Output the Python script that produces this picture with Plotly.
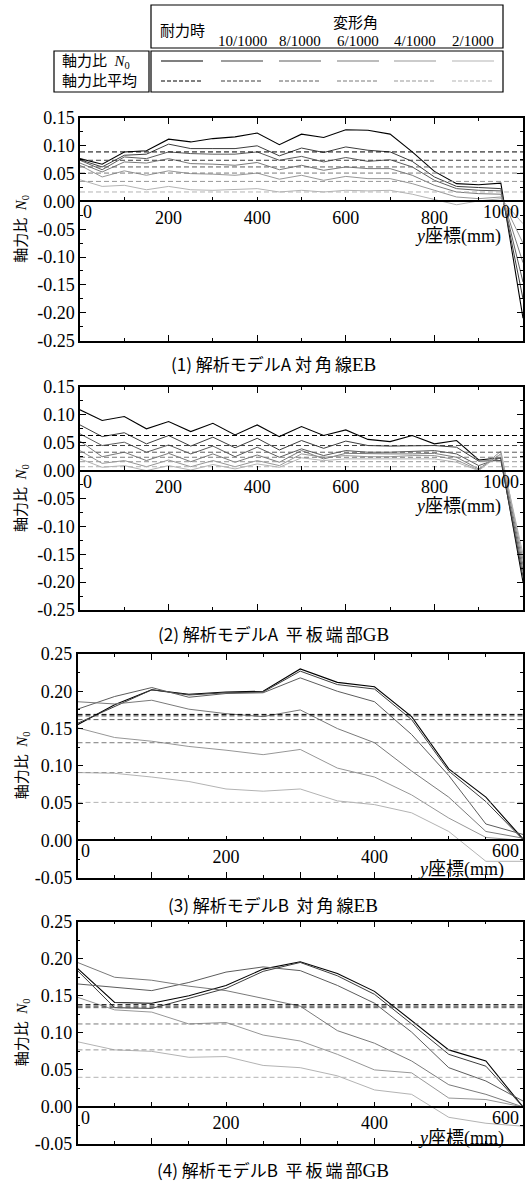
import plotly.graph_objects as go

W, H = 526, 1182

# ---------------- data ----------------
series_labels = ["耐力時", "10/1000", "8/1000", "6/1000", "4/1000", "2/1000"]
line_colors = ["#000000", "#3c3c3c", "#5c5c5c", "#7a7a7a", "#979797", "#b3b3b3"]

x_A = [0, 50, 100, 150, 200, 250, 300, 350, 400, 450, 500,
       550, 600, 650, 700, 750, 800, 850, 900, 950, 1000]
x_B = [0, 50, 100, 150, 200, 250, 300, 350, 400, 450, 500, 550, 600]

# (1) 解析モデルA 対角線EB
p1_N0 = [
    [0.077, 0.067, 0.089, 0.091, 0.112, 0.107, 0.113, 0.116, 0.123, 0.102, 0.121,
     0.115, 0.129, 0.128, 0.121, 0.089, 0.054, 0.032, 0.030, 0.033, -0.210],
    [0.075, 0.062, 0.083, 0.085, 0.103, 0.095, 0.095, 0.095, 0.100, 0.082, 0.096,
     0.088, 0.098, 0.092, 0.089, 0.072, 0.044, 0.027, 0.025, 0.023, -0.175],
    [0.074, 0.057, 0.080, 0.077, 0.089, 0.086, 0.085, 0.085, 0.089, 0.074, 0.081,
     0.071, 0.079, 0.072, 0.075, 0.062, 0.038, 0.023, 0.020, 0.019, -0.145],
    [0.069, 0.053, 0.071, 0.069, 0.077, 0.068, 0.067, 0.065, 0.070, 0.057, 0.065,
     0.056, 0.062, 0.059, 0.059, 0.047, 0.029, 0.017, 0.014, 0.013, -0.110],
    [0.065, 0.044, 0.055, 0.047, 0.055, 0.050, 0.049, 0.047, 0.051, 0.040, 0.047,
     0.038, 0.045, 0.041, 0.041, 0.032, 0.020, 0.008, 0.005, 0.008, -0.075],
    [0.039, 0.027, 0.029, 0.021, 0.027, 0.021, 0.020, 0.021, 0.023, 0.017, 0.020,
     0.017, 0.020, 0.019, 0.020, 0.013, 0.003, -0.006, 0.001, 0.005, -0.040],
]
p1_avg = [0.089, 0.074, 0.062, 0.051, 0.036, 0.017]

# (2) 解析モデルA 平板端部GB
p2_N0 = [
    [0.109, 0.090, 0.097, 0.075, 0.088, 0.070, 0.085, 0.064, 0.082, 0.061, 0.079,
     0.063, 0.073, 0.056, 0.052, 0.063, 0.048, 0.054, 0.019, 0.023, -0.200],
    [0.082, 0.061, 0.068, 0.048, 0.063, 0.044, 0.060, 0.041, 0.058, 0.037, 0.054,
     0.040, 0.053, 0.045, 0.044, 0.044, 0.045, 0.042, 0.017, 0.018, -0.190],
    [0.066, 0.045, 0.051, 0.033, 0.046, 0.030, 0.044, 0.025, 0.042, 0.024, 0.039,
     0.027, 0.036, 0.033, 0.033, 0.035, 0.036, 0.030, 0.009, 0.023, -0.180],
    [0.053, 0.025, 0.033, 0.018, 0.031, 0.016, 0.030, 0.015, 0.028, 0.015, 0.036,
     0.021, 0.031, 0.030, 0.030, 0.030, 0.031, 0.024, 0.003, 0.030, -0.170],
    [0.036, 0.013, 0.018, 0.007, 0.019, 0.007, 0.018, 0.007, 0.018, 0.009, 0.030,
     0.024, 0.027, 0.025, 0.025, 0.027, 0.027, 0.019, 0.001, 0.035, -0.160],
    [0.021, 0.006, 0.009, 0.000, 0.009, 0.001, 0.011, 0.003, 0.012, 0.006, 0.023,
     0.018, 0.021, 0.021, 0.021, 0.021, 0.021, 0.015, 0.000, 0.030, -0.150],
]
p2_avg = [0.063, 0.045, 0.033, 0.024, 0.016, 0.007]

# (3) 解析モデルB 対角線EB
p3_N0 = [
    [0.155, 0.182, 0.202, 0.196, 0.199, 0.200, 0.230, 0.212, 0.206, 0.166, 0.096, 0.058, 0.002],
    [0.157, 0.180, 0.202, 0.195, 0.198, 0.199, 0.227, 0.209, 0.203, 0.162, 0.093, 0.052, 0.001],
    [0.176, 0.193, 0.205, 0.192, 0.197, 0.198, 0.218, 0.200, 0.186, 0.142, 0.087, 0.022, 0.008],
    [0.186, 0.183, 0.188, 0.176, 0.170, 0.166, 0.175, 0.150, 0.131, 0.093, 0.058, 0.012, 0.003],
    [0.151, 0.138, 0.133, 0.126, 0.121, 0.115, 0.122, 0.097, 0.085, 0.061, 0.030, 0.004, 0.000],
    [0.091, 0.090, 0.085, 0.079, 0.069, 0.066, 0.069, 0.053, 0.048, 0.037, 0.012, -0.028, -0.028],
]
p3_avg = [0.169, 0.167, 0.162, 0.131, 0.091, 0.051]

# (4) 解析モデルB 平板端部GB
p4_N0 = [
    [0.187, 0.141, 0.140, 0.150, 0.164, 0.186, 0.196, 0.180, 0.156, 0.116, 0.077, 0.062, 0.000],
    [0.184, 0.134, 0.133, 0.147, 0.160, 0.183, 0.195, 0.177, 0.152, 0.112, 0.071, 0.055, 0.000],
    [0.166, 0.161, 0.157, 0.168, 0.182, 0.189, 0.184, 0.164, 0.140, 0.101, 0.053, 0.035, 0.008],
    [0.195, 0.175, 0.171, 0.163, 0.157, 0.146, 0.136, 0.103, 0.086, 0.062, 0.030, 0.017, 0.000],
    [0.148, 0.131, 0.128, 0.112, 0.114, 0.097, 0.089, 0.071, 0.050, 0.046, 0.012, 0.010, 0.000],
    [0.088, 0.077, 0.075, 0.067, 0.068, 0.056, 0.053, 0.042, 0.023, 0.017, -0.014, -0.022, -0.026],
]
p4_avg = [0.138, 0.136, 0.134, 0.112, 0.077, 0.040]

SP = "<span style=\"letter-spacing:3px\">"
SR = "<span style=\"font-family:Liberation Serif;font-size:19px\">"
panel_titles = [
    f"(1) 解析モデルA {SP}対角</span>線{SR}EB</span>",
    f"(2) 解析モデルA  {SP}平板端</span>部{SR}GB</span>",
    f"(3) 解析モデルB  {SP}対角</span>線{SR}EB</span>",
    f"(4) 解析モデルB  {SP}平板端</span>部{SR}GB</span>",
]
yticks_A = [-0.25, -0.20, -0.15, -0.10, -0.05, 0.00, 0.05, 0.10, 0.15]
yticks_B = [-0.05, 0.00, 0.05, 0.10, 0.15, 0.20, 0.25]
xlabels_A = [200, 400, 600, 800]
xlabels_B = [200, 400]

# ---------------- layout helpers ----------------
SERIF = "Liberation Serif, Noto Sans CJK JP"
SANS = "Noto Sans CJK JP"


def fx(px):
    return px / W


def fy(py):
    return 1 - py / H


panels = [
    dict(x=x_A, vals=p1_N0, avg=p1_avg, xr=[0, 1000], yr=[-0.25, 0.15], xd=(80, 523), yd=(118, 340.5),
         xmaj=200, xmin=100, zstep=100, yt=yticks_A, xl=xlabels_A, title_y=364, xt_shift=-35, kind="A"),
    dict(x=x_A, vals=p2_N0, avg=p2_avg, xr=[0, 1000], yr=[-0.25, 0.15], xd=(80, 523), yd=(387, 610),
         xmaj=200, xmin=100, zstep=100, yt=yticks_A, xl=xlabels_A, title_y=633, xt_shift=-36, kind="A"),
    dict(x=x_B, vals=p3_N0, avg=p3_avg, xr=[0, 600], yr=[-0.05, 0.25], xd=(77.5, 523), yd=(654, 877.7),
         xmaj=100, xmin=50, zstep=100, yt=yticks_B, xl=xlabels_B, title_y=904, xt_shift=-29, kind="B"),
    dict(x=x_B, vals=p4_N0, avg=p4_avg, xr=[0, 600], yr=[-0.05, 0.25], xd=(77.5, 523), yd=(921.7, 1144),
         xmaj=100, xmin=50, zstep=100, yt=yticks_B, xl=xlabels_B, title_y=1169, xt_shift=-32, kind="B"),
]

fig = go.Figure()
layout = dict(
    width=W, height=H, margin=dict(l=0, r=0, t=0, b=0, pad=0), autosize=False,
    paper_bgcolor="white", plot_bgcolor="white", showlegend=False,
    font=dict(family=SERIF, size=15, color="black"),
)
annotations = []
shapes = []


def axname(letter, n):
    return f"{letter}axis" if n == 1 else f"{letter}axis{n}"


def axref(letter, n):
    return letter if n == 1 else f"{letter}{n}"


for i, p in enumerate(panels, start=1):
    xb, yb, xo = axref("x", i), axref("y", i), axref("x", i + 4)
    ymin, ymax = p["yr"]
    d0, d1 = fy(p["yd"][1]), fy(p["yd"][0])
    zero_pos = d0 + (0 - ymin) / (ymax - ymin) * (d1 - d0)

    # measured lines
    for k in range(len(series_labels)):
        fig.add_trace(go.Scatter(x=p["x"], y=p["vals"][k], mode="lines", xaxis=xb, yaxis=yb,
                                 line=dict(color=line_colors[k], width=1.1 if k == 0 else 1),
                                 name=series_labels[k], hoverinfo="skip"))
    # averages (dashed)
    for k in range(len(series_labels)):
        fig.add_trace(go.Scatter(x=[p["x"][0], p["x"][-1]], y=[p["avg"][k]] * 2, mode="lines",
                                 xaxis=xo, yaxis=yb,
                                 line=dict(color=line_colors[k], width=1, dash="5px,3px"),
                                 name=series_labels[k] + " 平均", hoverinfo="skip"))

    layout[axname("x", i)] = dict(
        domain=[fx(p["xd"][0]), fx(p["xd"][1])], range=p["xr"], anchor=yb, automargin=False,
        showline=True, linecolor="black", linewidth=1.5, mirror="ticks",
        ticks="inside", ticklen=6, tickwidth=1, tickcolor="black", tick0=0, dtick=p["xmaj"],
        minor=dict(ticks="inside", ticklen=3, tickcolor="black", tick0=0, dtick=p["xmin"], showgrid=False),
        showticklabels=False, showgrid=False, zeroline=False, fixedrange=True,
    )
    ztv = list(range(p["zstep"], p["xr"][1], p["zstep"]))
    zax = dict(
        overlaying=xb, anchor="free", position=zero_pos, side="bottom", range=p["xr"], automargin=False,
        showline=True, linecolor="black", linewidth=1.5,
        ticks="inside", ticklen=4, tickwidth=1, tickcolor="black",
        tickvals=ztv, ticktext=[str(v) if v in p["xl"] else "" for v in ztv],
        tickfont=dict(family="Liberation Serif", size=18, color="black"),
        showgrid=False, zeroline=False, fixedrange=True,
    )
    if p["kind"] == "B":
        zax["minor"] = dict(ticks="inside", ticklen=3, tickcolor="black", tick0=0, dtick=p["xmin"], showgrid=False)
    layout[axname("x", i + 4)] = zax
    layout[axname("y", i)] = dict(
        domain=[d0, d1], range=p["yr"], anchor=xb, automargin=False,
        showline=True, linecolor="black", linewidth=1.5, mirror="ticks",
        ticks="inside", ticklen=6, tickwidth=1, tickcolor="black",
        tickvals=p["yt"], ticktext=[f"{v:.2f}" for v in p["yt"]],
        tickfont=dict(family="Liberation Serif", size=18, color="black"),
        minor=dict(ticks="inside", ticklen=3, tickcolor="black", tick0=0, dtick=0.025, showgrid=False),
        showgrid=False, zeroline=False, fixedrange=True,
    )

    # edge tick labels of the zero axis
    annotations.append(dict(x=p["xr"][0], y=0, xref=xb, yref=yb, text="0", showarrow=False,
                            xanchor="left", yanchor="top", xshift=1, yshift=1,
                            font=dict(family="Liberation Serif", size=18)))
    annotations.append(dict(x=p["xr"][1], y=0, xref=xb, yref=yb, text=str(p["xr"][1]), showarrow=False,
                            xanchor="right", yanchor="top", xshift=-2, yshift=1,
                            font=dict(family="Liberation Serif", size=18)))
    # x-axis title
    annotations.append(dict(x=0.955 if p["kind"] == "A" else 0.962, y=0, xref=f"{xb} domain", yref=yb,
                            text="<i>y</i>座標(mm)", showarrow=False, xanchor="right", yanchor="middle",
                            yshift=p["xt_shift"], font=dict(family=SERIF, size=18)))
    # y-axis title
    annotations.append(dict(x=fx(22.5), y=0.5, xref="paper", yref=f"{yb} domain",
                            text="軸力比  <i>N</i><sub>0</sub>", textangle=-90, showarrow=False,
                            xanchor="center", yanchor="middle", font=dict(family=SERIF, size=15)))
    # panel title
    annotations.append(dict(x=fx(273), y=fy(p["title_y"]), xref="paper", yref="paper",
                            text=panel_titles[i - 1], showarrow=False, xanchor="center", yanchor="middle",
                            font=dict(family=SANS, size=17)))

# ---------------- legend table ----------------
def rect(x0, y0, x1, y1):
    shapes.append(dict(type="rect", xref="paper", yref="paper", x0=fx(x0), x1=fx(x1), y0=fy(y1), y1=fy(y0),
                       line=dict(color="black", width=1.2), fillcolor="rgba(0,0,0,0)"))


rect(151, 5, 503, 48)
rect(151, 51, 503, 92)
rect(54, 51, 149, 92)

sample_cx = [182, 242, 300, 358, 415, 473]
for k, cx in enumerate(sample_cx):
    shapes.append(dict(type="line", xref="paper", yref="paper", x0=fx(cx - 21), x1=fx(cx + 21),
                       y0=fy(61), y1=fy(61), line=dict(color=line_colors[k], width=1.1)))
    shapes.append(dict(type="line", xref="paper", yref="paper", x0=fx(cx - 21), x1=fx(cx + 21),
                       y0=fy(81), y1=fy(81), line=dict(color=line_colors[k], width=1, dash="4px,2px")))
    if k == 0:
        annotations.append(dict(x=fx(cx), y=fy(31.5), xref="paper", yref="paper", text=series_labels[k],
                                showarrow=False, xanchor="center", yanchor="middle",
                                font=dict(family=SERIF, size=15)))
    else:
        annotations.append(dict(x=fx(cx), y=fy(41.5), xref="paper", yref="paper", text=series_labels[k],
                                showarrow=False, xanchor="center", yanchor="middle",
                                font=dict(family="Liberation Serif", size=15)))
annotations.append(dict(x=fx(355), y=fy(22.5), xref="paper", yref="paper", text="変形角",
                        showarrow=False, xanchor="center", yanchor="middle", font=dict(family=SERIF, size=15)))
annotations.append(dict(x=fx(60), y=fy(62), xref="paper", yref="paper", text="軸力比  <i>N</i><sub>0</sub>",
                        showarrow=False, xanchor="left", yanchor="middle", font=dict(family=SERIF, size=15)))
annotations.append(dict(x=fx(60), y=fy(81), xref="paper", yref="paper", text="軸力比平均",
                        showarrow=False, xanchor="left", yanchor="middle", font=dict(family=SERIF, size=15)))

layout["annotations"] = annotations
layout["shapes"] = shapes
fig.update_layout(**layout)
fig.write_html("out.html", config={"displayModeBar": False},
               post_script="document.body.style.margin='0';document.body.style.padding='0';")
